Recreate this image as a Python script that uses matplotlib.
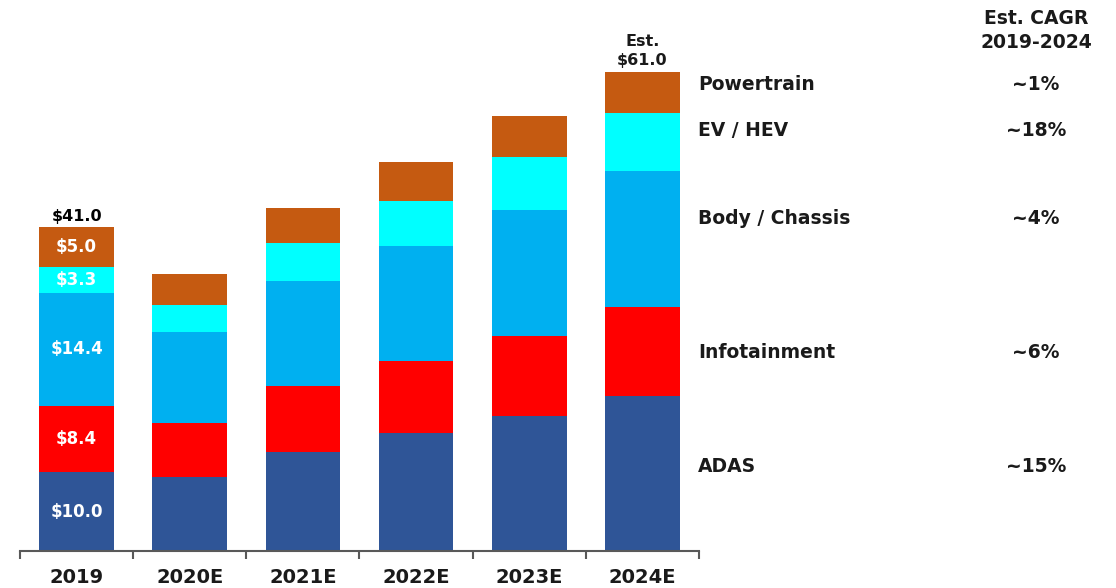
import numpy as np
import matplotlib
matplotlib.use('Agg')
import matplotlib.pyplot as plt

plt.rcParams['font.family'] = ['DejaVu Sans']

# Automotive semiconductor market by application ($B)
years = ['2019', '2020E', '2021E', '2022E', '2023E', '2024E']
segments = ['ADAS', 'Infotainment', 'Body / Chassis', 'EV / HEV', 'Powertrain']
adas = [10.0, 9.4, 12.6, 15.0, 17.1, 19.7]
infotainment = [8.4, 6.9, 8.4, 9.1, 10.2, 11.3]
body_chassis = [14.4, 11.5, 13.3, 14.6, 16.0, 17.3]
ev_hev = [3.3, 3.5, 4.8, 5.8, 6.8, 7.4]
powertrain = [5.0, 3.9, 4.5, 4.9, 5.2, 5.2]
total_2019 = 41.0
total_2024 = 61.0
cagr = ['~15%', '~6%', '~4%', '~18%', '~1%']
colors = ['#2F5597', '#FF0000', '#00B0F0', '#00FFFF', '#C55A11']

series = [adas, infotainment, body_chassis, ev_hev, powertrain]

fig = plt.figure(figsize=(11.16, 5.88), dpi=100)
ax = fig.add_axes([20 / 1116, 37 / 588, 679 / 1116, 551 / 588])

x = np.arange(len(years))
bottom = np.zeros(len(years))
for vals, col in zip(series, colors):
    ax.bar(x, vals, width=0.66, bottom=bottom, color=col, linewidth=0)
    bottom += np.array(vals)

# value labels inside the 2019 bar
b = 0
for vals in series:
    ax.text(0, b + vals[0] / 2, f'${vals[0]:.1f}', ha='center', va='center',
            color='white', fontsize=12, fontweight='bold')
    b += vals[0]
ax.text(0, bottom[0] + 0.5, f'${total_2019:.1f}', ha='center', va='bottom',
        color='black', fontsize=11.5, fontweight='bold')
ax.text(5, bottom[5] + 0.5, f'Est.\n${total_2024:.1f}', ha='center', va='bottom',
        color='#1a1a1a', fontsize=11.5, fontweight='bold', linespacing=1.3)

ax.set_xlim(-0.5, 5.5)
ax.set_ylim(0, 70)
for s in ['top', 'right', 'left']:
    ax.spines[s].set_visible(False)
ax.spines['bottom'].set_color('#595959')
ax.spines['bottom'].set_linewidth(1.5)
ax.set_yticks([])
ax.set_xticks(x)
ax.set_xticklabels(years, fontsize=14, fontweight='bold', color='#1a1a1a')
ax.tick_params(axis='x', which='major', length=0, pad=12)
ax.set_xticks(np.arange(-0.5, 6, 1), minor=True)
ax.tick_params(axis='x', which='minor', length=6, width=1.5, color='#595959',
               direction='out')

# legend / CAGR column
label_y = [466, 353, 219, 130, 85]
for name, g, py in zip(segments, cagr, label_y):
    fig.text(698 / 1116, 1 - py / 588, name, ha='left', va='center',
             fontsize=13.5, fontweight='bold', color='#1a1a1a')
    fig.text(1036 / 1116, 1 - py / 588, g, ha='center', va='center',
             fontsize=13.5, fontweight='bold', color='#1a1a1a')
fig.text(1036 / 1116, 1 - 18 / 588, 'Est. CAGR', ha='center', va='center',
         fontsize=13.5, fontweight='bold', color='#1a1a1a')
fig.text(1036 / 1116, 1 - 42 / 588, '2019-2024', ha='center', va='center',
         fontsize=13.5, fontweight='bold', color='#1a1a1a')

fig.savefig('out.png', dpi=100)
